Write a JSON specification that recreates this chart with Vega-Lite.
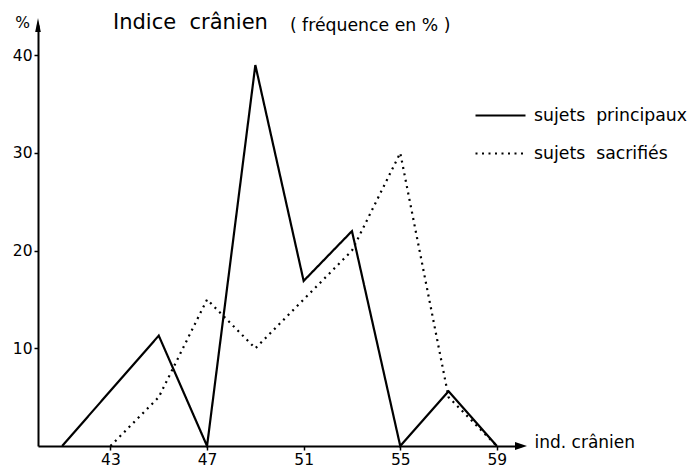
{
  "$schema": "https://vega.github.io/schema/vega-lite/v6.json",
  "width": 483,
  "height": 421,
  "autosize": {"type": "none"},
  "padding": {"left": 38, "top": 25, "right": 175, "bottom": 20},
  "background": "white",
  "config": {
    "view": {"stroke": null},
    "font": "DejaVu Sans",
    "axis": {"grid": false, "domainColor": "black", "domainWidth": 2, "tickColor": "black", "tickWidth": 1.5, "tickSize": 4, "labelColor": "black", "labelFontSize": 15.5, "labelFont": "DejaVu Sans", "labelPadding": 2, "titleColor": "black", "titleFont": "DejaVu Sans", "titleFontWeight": "normal"}
  },
  "title": {"text": "Indice\u00a0 crânien", "fontSize": 21, "fontWeight": "normal", "font": "DejaVu Sans", "color": "black", "anchor": "start", "frame": "group", "dx": 75, "dy": 29, "offset": 0, "baseline": "middle"},
  "data": {"values": [
    {"x": 41, "y": 0, "s": "sujets principaux"},
    {"x": 45, "y": 11.3, "s": "sujets principaux"},
    {"x": 47, "y": 0, "s": "sujets principaux"},
    {"x": 49, "y": 39, "s": "sujets principaux"},
    {"x": 51, "y": 16.9, "s": "sujets principaux"},
    {"x": 53, "y": 22, "s": "sujets principaux"},
    {"x": 55, "y": 0, "s": "sujets principaux"},
    {"x": 57, "y": 5.6, "s": "sujets principaux"},
    {"x": 59, "y": 0, "s": "sujets principaux"},
    {"x": 43, "y": 0, "s": "sujets sacrifiés"},
    {"x": 45, "y": 5, "s": "sujets sacrifiés"},
    {"x": 47, "y": 15, "s": "sujets sacrifiés"},
    {"x": 49, "y": 10, "s": "sujets sacrifiés"},
    {"x": 51, "y": 15, "s": "sujets sacrifiés"},
    {"x": 53, "y": 20, "s": "sujets sacrifiés"},
    {"x": 55, "y": 30, "s": "sujets sacrifiés"},
    {"x": 57, "y": 5, "s": "sujets sacrifiés"},
    {"x": 59, "y": 0, "s": "sujets sacrifiés"}
  ]},
  "layer": [
    {
      "mark": {"type": "line", "color": "black", "strokeWidth": 2.2, "clip": false},
      "encoding": {
        "x": {"field": "x", "type": "quantitative", "scale": {"domain": [40, 60], "nice": false, "zero": false},
          "axis": {"values": [43, 47, 51, 55, 59], "title": "ind. crânien", "titleFontSize": 17, "titleX": 496, "titleY": -4, "titleAlign": "left", "titleBaseline": "middle", "titleAnchor": null}},
        "y": {"field": "y", "type": "quantitative", "scale": {"domain": [0, 43.1], "nice": false},
          "axis": {"values": [10, 20, 30, 40], "title": "%", "titleFontSize": 15.5, "titleAngle": 0, "titleX": -16, "titleY": -3, "titleAlign": "center", "titleBaseline": "middle"}},
        "strokeDash": {"field": "s", "type": "nominal",
          "scale": {"domain": ["sujets principaux", "sujets sacrifiés"], "range": [[1, 0], [2, 4.5]]},
          "legend": {"title": null, "orient": "none", "legendX": 436, "legendY": 64, "symbolType": "stroke", "symbolSize": 2500, "symbolStrokeWidth": 2.2, "symbolStrokeColor": "black", "labelFontSize": 17.3, "labelColor": "black", "labelFont": "DejaVu Sans", "labelOffset": 7, "rowPadding": 3, "labelExpr": "replace(datum.label, ' ', '\u00a0 ')"}}
      }
    },
    {
      "data": {"values": [{}]},
      "mark": {"type": "point", "shape": "M1,0L-1,-0.67L-1,0.67Z", "filled": true, "color": "black", "size": 144, "opacity": 1, "clip": false},
      "encoding": {"x": {"datum": 60}, "y": {"datum": 0}}
    },
    {
      "data": {"values": [{}]},
      "mark": {"type": "point", "shape": "M0,-1L0.4,1L-0.4,1Z", "filled": true, "color": "black", "size": 196, "opacity": 1, "clip": false},
      "encoding": {"x": {"datum": 40}, "y": {"datum": 43.1}}
    },
    {
      "data": {"values": [{"t": "( fréquence en % )"}]},
      "mark": {"type": "text", "align": "left", "baseline": "middle", "fontSize": 17.3, "font": "DejaVu Sans", "color": "black", "clip": false},
      "encoding": {"x": {"datum": 50.43}, "y": {"datum": 43.0}, "text": {"field": "t"}}
    }
  ]
}
